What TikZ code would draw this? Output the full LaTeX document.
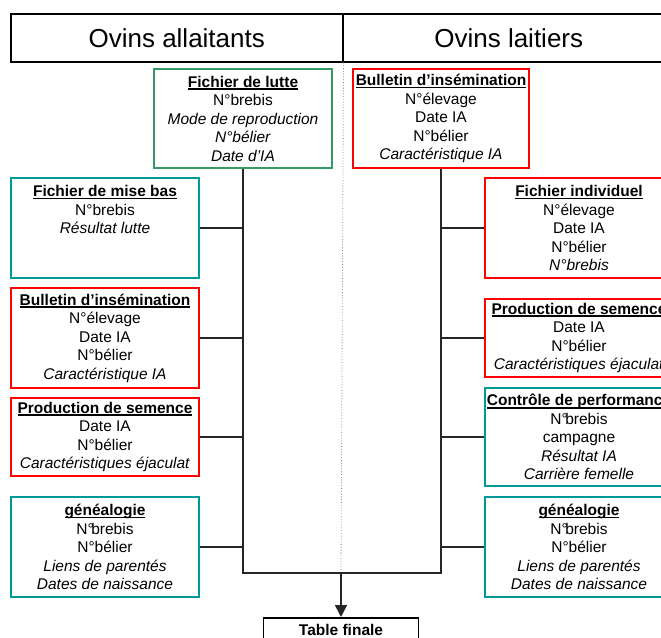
\documentclass[tikz,border=0pt]{standalone}
\usepackage{fontspec}
\setmainfont{Liberation Sans}
\usetikzlibrary{arrows.meta}
\definecolor{fgreen}{RGB}{51,153,102}
\definecolor{fteal}{RGB}{0,153,153}
\definecolor{fred}{RGB}{255,0,0}
\newcommand{\ttl}[1]{\setbox0\hbox{\textbf{#1}}\leavevmode\rlap{\rule[-2.8pt]{\wd0}{1.6pt}}\box0}
\newcommand{\Nb}{N°\kern-2.5pt brebis}
\begin{document}
\begin{tikzpicture}[x=1pt,y=-1pt,
  box/.style={draw=#1, line width=2pt, anchor=north west, align=center,
    inner sep=1pt, font=\fontsize{15.5}{18.5}\selectfont},
  wide/.style={minimum width=188},
  head/.style={draw, line width=1.5pt, anchor=north west, minimum width=332,
    minimum height=48, font=\fontsize{26}{30}\selectfont},
  link/.style={line width=1.5pt, draw=black!85}]
\useasboundingbox (0,0) rectangle (661,637);
\clip (0,0) rectangle (661,637);
% header
\node[head] (hL) at (10,13) {Ovins allaitants};
\node[head] (hR) at (342,13) {Ovins laitiers};
% top boxes
\node[box=fgreen, minimum width=178, minimum height=99] (lutte) at (153,68)
  {\ttl{Fichier de lutte}\\N°brebis\\\textit{Mode de reproduction}\\\textit{N°bélier}\\\textit{Date d’IA}};
\node[box=fred, minimum width=176, minimum height=99] (bullR) at (352,68)
  {\ttl{Bulletin d’insémination}\\N°élevage\\Date IA\\N°bélier\\\textit{Caractéristique IA}};
% left boxes
\node[box=fteal, wide, minimum height=100] (misebas) at (10,177)
  {\ttl{Fichier de mise bas}\\N°brebis\\\textit{Résultat lutte}\\\mbox{}\\\mbox{}};
\node[box=fred, wide, minimum height=100] (bullL) at (10,287)
  {\ttl{Bulletin d’insémination}\\N°élevage\\Date IA\\N°bélier\\\textit{Caractéristique IA}};
\node[box=fred, wide, minimum height=78] (prodL) at (10,397)
  {\ttl{Production de semence}\\Date IA\\N°bélier\\\textit{Caractéristiques éjaculat}};
\node[box=fteal, wide, minimum height=100] (genL) at (10,496)
  {\ttl{généalogie}\\\Nb\\N°bélier\\\textit{Liens de parentés}\\\textit{Dates de naissance}};
% right boxes
\node[box=fred, wide, minimum height=100] (indiv) at (484,177)
  {\ttl{Fichier individuel}\\N°élevage\\Date IA\\N°bélier\\\textit{N°brebis}};
\node[box=fred, wide, minimum height=78] (prodR) at (484,298)
  {\ttl{Production de semence}\\Date IA\\N°bélier\\\textit{Caractéristiques éjaculat}};
\node[box=fteal, wide, minimum height=98] (ctrl) at (484,387)
  {\ttl{Contrôle de performance}\\\Nb\\campagne\\\textit{Résultat IA}\\\textit{Carrière femelle}};
\node[box=fteal, wide, minimum height=100] (genR) at (484,496)
  {\ttl{généalogie}\\\Nb\\N°bélier\\\textit{Liens de parentés}\\\textit{Dates de naissance}};
% final table
\node[draw, line width=1.5pt, anchor=north, minimum width=155, minimum height=24,
  font=\fontsize{15.5}{18.5}\selectfont\bfseries] (final) at (341,617) {Table finale};
% connectors
\coordinate (jL) at (lutte.south |- 0,573);
\coordinate (jR) at (bullR.south |- 0,573);
\coordinate (jM) at (341,573);
\draw[gray, line width=0.8pt, dotted] (hL.south east) -- (jM);
\draw[link] (lutte.south) -- (jL) -- (jR) -- (bullR.south);
\draw[link] (misebas.east) -- (misebas.east -| jL);
\draw[link] (bullL.east) -- (bullL.east -| jL);
\draw[link] (prodL.east) -- (prodL.east -| jL);
\draw[link] (genL.east) -- (genL.east -| jL);
\draw[link] (indiv.west) -- (indiv.west -| jR);
\draw[link] (prodR.west) -- (prodR.west -| jR);
\draw[link] (ctrl.west) -- (ctrl.west -| jR);
\draw[link] (genR.west) -- (genR.west -| jR);
\draw[link, -{Triangle[width=12pt,length=12pt]}] (jM) -- (final.north);
\end{tikzpicture}
\end{document}
